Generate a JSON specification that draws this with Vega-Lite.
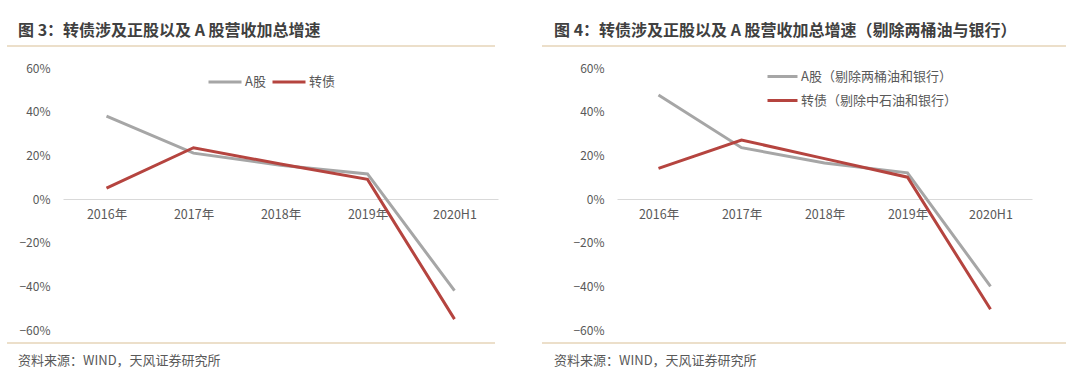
{
  "$schema": "https://vega.github.io/schema/vega-lite/v6.json",
  "padding": {"left": 6, "top": 22, "right": 0, "bottom": 0},
  "background": "white",
  "config": {"view": {"stroke": null}, "font": "Noto Sans CJK SC"},
  "spacing": 43,
  "resolve": {"scale": {"color": "independent"}, "legend": {"color": "independent"}},
  "datasets": {
    "left": [
      {"year": "2016年", "series": "A股", "value": 0.38},
      {"year": "2017年", "series": "A股", "value": 0.21},
      {"year": "2018年", "series": "A股", "value": 0.155},
      {"year": "2019年", "series": "A股", "value": 0.115},
      {"year": "2020H1", "series": "A股", "value": -0.42},
      {"year": "2016年", "series": "转债", "value": 0.05},
      {"year": "2017年", "series": "转债", "value": 0.235},
      {"year": "2018年", "series": "转债", "value": 0.16},
      {"year": "2019年", "series": "转债", "value": 0.09},
      {"year": "2020H1", "series": "转债", "value": -0.55}
    ],
    "right": [
      {"year": "2016年", "series": "A股（剔除两桶油和银行）", "value": 0.476},
      {"year": "2017年", "series": "A股（剔除两桶油和银行）", "value": 0.235},
      {"year": "2018年", "series": "A股（剔除两桶油和银行）", "value": 0.165},
      {"year": "2019年", "series": "A股（剔除两桶油和银行）", "value": 0.12},
      {"year": "2020H1", "series": "A股（剔除两桶油和银行）", "value": -0.40},
      {"year": "2016年", "series": "转债（剔除中石油和银行）", "value": 0.14},
      {"year": "2017年", "series": "转债（剔除中石油和银行）", "value": 0.27},
      {"year": "2018年", "series": "转债（剔除中石油和银行）", "value": 0.185},
      {"year": "2019年", "series": "转债（剔除中石油和银行）", "value": 0.10},
      {"year": "2020H1", "series": "转债（剔除中石油和银行）", "value": -0.505}
    ]
  },
  "hconcat": [
    {
      "width": 435,
      "height": 262,
      "resolve": {"scale": {"x": "independent"}},
      "layer": [
        {
          "data": {"name": "left"},
          "mark": {"type": "line", "strokeWidth": 3},
          "encoding": {
            "x": {"field": "year", "type": "ordinal", "sort": null, "scale": {"type": "point", "padding": 0.5},
              "axis": {"title": null, "labelAngle": 0, "offset": -131, "domainColor": "#d9d9d9", "domainWidth": 1, "ticks": false, "labelPadding": 9, "labelFontSize": 12.5, "labelColor": "#595959", "grid": false}},
            "y": {"field": "value", "type": "quantitative", "scale": {"domain": [-0.6, 0.6], "nice": false, "zero": false},
              "axis": {"title": null, "values": [-0.6, -0.4, -0.2, 0, 0.2, 0.4, 0.6], "format": ".0%", "domain": false, "ticks": false, "grid": false, "labelPadding": 13, "labelFontSize": 12, "labelColor": "#595959"}},
            "color": {"field": "series", "type": "nominal", "sort": ["A股", "转债"], "scale": {"range": ["#a6a6a6", "#b5443f"]},
              "legend": {"orient": "none", "legendX": 144, "legendY": -4, "direction": "horizontal", "title": null, "symbolType": "stroke", "symbolSize": 1089, "symbolStrokeWidth": 3, "labelFontSize": 13, "labelColor": "#595959", "columnPadding": 0, "labelOffset": 2}}
          }
        },
        {
          "data": {"values": [{}]},
          "mark": {"type": "rule", "color": "#e6d5b8", "strokeWidth": 1.5},
          "encoding": {
            "x": {"datum": -0.1287, "type": "quantitative", "scale": {"domain": [0, 1], "nice": false, "zero": false}, "axis": null},
            "x2": {"datum": 0.9931},
            "y": {"datum": 0.7008, "type": "quantitative", "title": null}
          }
        },
        {
          "data": {"values": [{}]},
          "mark": {"type": "rule", "color": "#e6d5b8", "strokeWidth": 1.5},
          "encoding": {
            "x": {"datum": -0.1287, "type": "quantitative", "scale": {"domain": [0, 1], "nice": false, "zero": false}, "axis": null},
            "x2": {"datum": 0.9931},
            "y": {"datum": -0.6595, "type": "quantitative", "title": null}
          }
        },
        {
          "data": {"values": [{}]},
          "mark": {"type": "text", "text": "图 3：转债涉及正股以及 A 股营收加总增速", "align": "left", "baseline": "middle", "fontSize": 16, "fontWeight": "bold", "color": "#404040"},
          "encoding": {
            "x": {"datum": -0.1034, "type": "quantitative", "scale": {"domain": [0, 1], "nice": false, "zero": false}, "axis": null},
            "y": {"datum": 0.7695, "type": "quantitative", "title": null}
          }
        },
        {
          "data": {"values": [{}]},
          "mark": {"type": "text", "text": "资料来源：WIND，天风证券研究所", "align": "left", "baseline": "middle", "fontSize": 13, "color": "#595959"},
          "encoding": {
            "x": {"datum": -0.1034, "type": "quantitative", "scale": {"domain": [0, 1], "nice": false, "zero": false}, "axis": null},
            "y": {"datum": -0.742, "type": "quantitative", "title": null}
          }
        }
      ]
    },
    {
      "width": 415,
      "height": 262,
      "resolve": {"scale": {"x": "independent"}},
      "layer": [
        {
          "data": {"name": "right"},
          "mark": {"type": "line", "strokeWidth": 3},
          "encoding": {
            "x": {"field": "year", "type": "ordinal", "sort": null, "scale": {"type": "point", "padding": 0.5},
              "axis": {"title": null, "labelAngle": 0, "offset": -131, "domainColor": "#d9d9d9", "domainWidth": 1, "ticks": false, "labelPadding": 9, "labelFontSize": 12.5, "labelColor": "#595959", "grid": false}},
            "y": {"field": "value", "type": "quantitative", "scale": {"domain": [-0.6, 0.6], "nice": false, "zero": false},
              "axis": {"title": null, "values": [-0.6, -0.4, -0.2, 0, 0.2, 0.4, 0.6], "format": ".0%", "domain": false, "ticks": false, "grid": false, "labelPadding": 13, "labelFontSize": 12, "labelColor": "#595959"}},
            "color": {"field": "series", "type": "nominal", "sort": ["A股（剔除两桶油和银行）", "转债（剔除中石油和银行）"], "scale": {"range": ["#a6a6a6", "#b5443f"]},
              "legend": {"orient": "none", "legendX": 149, "legendY": -8, "direction": "vertical", "title": null, "symbolType": "stroke", "symbolSize": 900, "symbolStrokeWidth": 3, "labelFontSize": 13, "labelColor": "#595959", "rowPadding": 0, "labelOffset": 2}}
          }
        },
        {
          "data": {"values": [{}]},
          "mark": {"type": "rule", "color": "#e6d5b8", "strokeWidth": 1.5},
          "encoding": {
            "x": {"datum": -0.1807, "type": "quantitative", "scale": {"domain": [0, 1], "nice": false, "zero": false}, "axis": null},
            "x2": {"datum": 1.0819},
            "y": {"datum": 0.7008, "type": "quantitative", "title": null}
          }
        },
        {
          "data": {"values": [{}]},
          "mark": {"type": "rule", "color": "#e6d5b8", "strokeWidth": 1.5},
          "encoding": {
            "x": {"datum": -0.1807, "type": "quantitative", "scale": {"domain": [0, 1], "nice": false, "zero": false}, "axis": null},
            "x2": {"datum": 1.0819},
            "y": {"datum": -0.6595, "type": "quantitative", "title": null}
          }
        },
        {
          "data": {"values": [{}]},
          "mark": {"type": "text", "text": "图 4：转债涉及正股以及 A 股营收加总增速（剔除两桶油与银行）", "align": "left", "baseline": "middle", "fontSize": 16, "fontWeight": "bold", "color": "#404040"},
          "encoding": {
            "x": {"datum": -0.1518, "type": "quantitative", "scale": {"domain": [0, 1], "nice": false, "zero": false}, "axis": null},
            "y": {"datum": 0.7695, "type": "quantitative", "title": null}
          }
        },
        {
          "data": {"values": [{}]},
          "mark": {"type": "text", "text": "资料来源：WIND，天风证券研究所", "align": "left", "baseline": "middle", "fontSize": 13, "color": "#595959"},
          "encoding": {
            "x": {"datum": -0.1518, "type": "quantitative", "scale": {"domain": [0, 1], "nice": false, "zero": false}, "axis": null},
            "y": {"datum": -0.742, "type": "quantitative", "title": null}
          }
        }
      ]
    }
  ]
}
